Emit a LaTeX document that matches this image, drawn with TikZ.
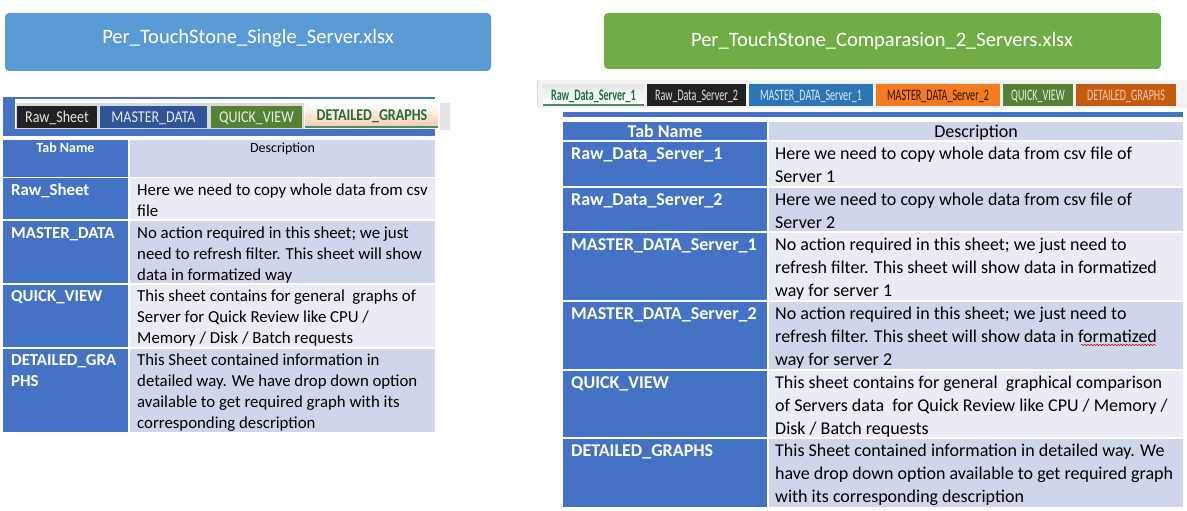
\documentclass[tikz,border=0pt]{standalone}
\usepackage{fontspec}
\setmainfont{Carlito}
\usepackage{graphicx}
\usetikzlibrary{decorations.pathmorphing}
\definecolor{hdrblue}{HTML}{5B9BD5}
\definecolor{hdrgreen}{HTML}{70AD47}
\definecolor{colblue}{HTML}{4472C4}
\definecolor{descdark}{HTML}{CFD5EA}
\definecolor{desclight}{HTML}{E9EBF5}
\definecolor{tabblack}{HTML}{222222}
\definecolor{tabnavy}{HTML}{2F5597}
\definecolor{tabgreen}{HTML}{548235}
\definecolor{tabsky}{HTML}{2E75B6}
\definecolor{taborange}{HTML}{F47B20}
\definecolor{tabrust}{HTML}{C55A11}
\definecolor{peach}{HTML}{F8CBAD}
\definecolor{activegreen}{HTML}{1F6F3A}
\definecolor{stripgray}{HTML}{F2F2F2}
\definecolor{framegray}{HTML}{D9D9D9}
\begin{document}
\begin{tikzpicture}[x=1pt,y=-1pt,
  title/.style={anchor=base, inner sep=0pt, text=white, font=\fontsize{20.5}{24}\selectfont},
  ltxt/.style={anchor=base west, inner sep=0pt, align=left, font=\fontsize{16.8}{21}\selectfont},
  lname/.style={ltxt, text=white, font=\fontsize{16.8}{21}\selectfont\bfseries},
  lhead/.style={anchor=base, inner sep=0pt, font=\fontsize{14}{16}\selectfont},
  rtxt/.style={anchor=base west, inner sep=0pt, align=left, font=\fontsize{18}{23}\selectfont},
  rname/.style={rtxt, text=white, font=\fontsize{18}{23}\selectfont\bfseries},
  rhead/.style={anchor=base, inner sep=0pt, font=\fontsize{18}{20}\selectfont},
  ltab/.style={anchor=base, inner sep=0pt, font=\fontsize{16.5}{18}\selectfont},
  rtab/.style={anchor=base, inner sep=0pt, font=\fontsize{16}{18}\selectfont},
]
\useasboundingbox (0,0) rectangle (1187,511);
\fill[white] (0,0) rectangle (1187,511);

% ---------- title boxes ----------
\fill[hdrblue, rounded corners=4pt] (5,13) rectangle (491,71);
\node[title] (t1) at (248,44) {Per\_TouchStone\_Single\_Server.xlsx};
\fill[hdrgreen, rounded corners=4pt] (604,13) rectangle (1161,69);
\node[title] (t2) at (882,47) {Per\_TouchStone\_Comparasion\_2\_Servers.xlsx};

% ---------- left tab strip ----------
\fill[colblue] (3,97.5) rectangle (435,99);
\fill[colblue] (3,97.5) rectangle (15,136);
\fill[colblue] (3,129) rectangle (435,136);
\fill[white] (15,99) rectangle (435,129);
\fill[framegray] (16,103) rectangle (304,129);
\fill[tabblack] (17,106) rectangle (97,128);
\node[ltab, text=gray!20] (lt1) at (57,122) {\scalebox{0.85}[1]{Raw\_Sheet}};
\fill[tabnavy] (100,106) rectangle (207,128);
\node[ltab, text=white!88!tabnavy] (lt2) at (153.5,122) {\scalebox{0.85}[1]{MASTER\_DATA}};
\fill[tabgreen] (211,106) rectangle (302,128);
\node[ltab, text=white!88!tabgreen] (lt3) at (256.5,122) {\scalebox{0.85}[1]{QUICK\_VIEW}};
\shade[top color=white, bottom color=peach] (305,104) rectangle (438,127);
\fill[activegreen!80] (305,126) rectangle (438,127.5);
\node[ltab, text=activegreen, font=\fontsize{16.5}{18}\selectfont\bfseries] (lt4) at (372,121) {\scalebox{0.85}[1]{DETAILED\_GRAPHS}};
\fill[framegray!70] (440,103) rectangle (450,130);

% ---------- left table ----------
\fill[colblue] (3,140) rectangle (128,177);
\fill[descdark] (130,140) rectangle (435,177);
\node[lhead, text=white, font=\fontsize{14}{16}\selectfont\bfseries] (lh1) at (65.5,152) {Tab Name};
\node[lhead, text=black] (lh2) at (282.5,152) {Description};

\fill[colblue] (3,178) rectangle (128,219);
\fill[desclight] (130,178) rectangle (435,219);
\fill[colblue] (3,221) rectangle (128,283);
\fill[descdark] (130,221) rectangle (435,283);
\fill[colblue] (3,285) rectangle (128,347);
\fill[desclight] (130,285) rectangle (435,347);
\fill[colblue] (3,349) rectangle (128,432);
\fill[descdark] (130,349) rectangle (435,432);

% multi-line nodes: y = baseline of last line
\node[lname] (ln1) at (11,195) {Raw\_Sheet};
\node[ltxt] (ld1) at (137,216) {Here we need to copy whole data from csv\\file};
\node[lname] (ln2) at (11,238) {MASTER\_DATA};
\node[ltxt] (ld2) at (137,280) {No action required in this sheet; we just\\need to refresh filter. This sheet will show\\data in formatized way};
\node[lname] (ln3) at (11,301) {QUICK\_VIEW};
\node[ltxt] (ld3) at (137,343) {This sheet contains for general~ graphs of\\Server for Quick Review like CPU /\\Memory / Disk / Batch requests};
\node[lname] (ln4) at (11,386) {DETAILED\_GRA\\PHS};
\node[ltxt] (ld4) at (137,428) {This Sheet contained information in\\detailed way. We have drop down option\\available to get required graph with its\\corresponding description};

% ---------- right tab strip ----------
\fill[stripgray] (537,80) rectangle (1187,108);
\draw[framegray, line width=0.8pt] (537.5,82) -- (537.5,106);
\shade[top color=framegray!60, bottom color=white] (543,85) rectangle (644,106);
\fill[activegreen!80] (543,104) rectangle (644,106);
\node[rtab, text=activegreen, font=\fontsize{16}{18}\selectfont\bfseries] (rt1) at (593.5,100) {\scalebox{0.63}[1]{Raw\_Data\_Server\_1}};
\fill[tabblack] (647,84) rectangle (746,106);
\node[rtab, text=gray!20] (rt2) at (696.5,100) {\scalebox{0.63}[1]{Raw\_Data\_Server\_2}};
\fill[tabsky] (749,84) rectangle (873,106);
\node[rtab, text=white!85!tabsky] (rt3) at (811,100) {\scalebox{0.63}[1]{MASTER\_DATA\_Server\_1}};
\fill[taborange] (876,84) rectangle (1000,106);
\node[rtab, text=black!85!taborange] (rt4) at (938,100) {\scalebox{0.63}[1]{MASTER\_DATA\_Server\_2}};
\fill[tabgreen] (1003,84) rectangle (1073,106);
\node[rtab, text=white!88!tabgreen] (rt5) at (1038,100) {\scalebox{0.63}[1]{QUICK\_VIEW}};
\fill[tabrust] (1076,84) rectangle (1176,106);
\node[rtab, text=peach] (rt6) at (1126,100) {\scalebox{0.63}[1]{DETAILED\_GRAPHS}};

\fill[colblue] (563,112) rectangle (1183,117);

% ---------- right table ----------
\fill[colblue] (563,122) rectangle (767,140);
\fill[descdark] (769,122) rectangle (1183,140);
\node[rhead, text=white, font=\fontsize{18}{20}\selectfont\bfseries] (rh1) at (665,137) {Tab Name};
\node[rhead, text=black] (rh2) at (976,137) {Description};

\fill[colblue] (563,142) rectangle (767,186);
\fill[desclight] (769,142) rectangle (1183,186);
\fill[colblue] (563,188) rectangle (767,231);
\fill[descdark] (769,188) rectangle (1183,231);
\fill[colblue] (563,233) rectangle (767,300);
\fill[desclight] (769,233) rectangle (1183,300);
\fill[colblue] (563,302) rectangle (767,369);
\fill[descdark] (769,302) rectangle (1183,369);
\fill[colblue] (563,371) rectangle (767,437);
\fill[desclight] (769,371) rectangle (1183,437);
\fill[colblue] (563,439) rectangle (767,507);
\fill[descdark] (769,439) rectangle (1183,507);

\node[rname] (rn1) at (571,159) {Raw\_Data\_Server\_1};
\node[rtxt] (rd1) at (775,182) {Here we need to copy whole data from csv file of\\Server 1};
\node[rname] (rn2) at (571,205) {Raw\_Data\_Server\_2};
\node[rtxt] (rd2) at (775,228) {Here we need to copy whole data from csv file of\\Server 2};
\node[rname] (rn3) at (571,250) {MASTER\_DATA\_Server\_1};
\node[rtxt] (rd3) at (775,296) {No action required in this sheet; we just need to\\refresh filter. This sheet will show data in formatized\\way for server 1};
\node[rname] (rn4) at (571,319) {MASTER\_DATA\_Server\_2};
\node[rtxt] (rd4) at (775,365) {No action required in this sheet; we just need to\\refresh filter. This sheet will show data in formatized\\way for server 2};
\node[rname] (rn5) at (571,388) {QUICK\_VIEW};
\node[rtxt] (rd5) at (775,434) {This sheet contains for general~ graphical comparison\\of Servers data~ for Quick Review like CPU / Memory /\\Disk / Batch requests};
\node[rname] (rn6) at (571,456) {DETAILED\_GRAPHS};
\node[rtxt] (rd6) at (775,502) {This Sheet contained information in detailed way. We\\have drop down option available to get required graph\\with its corresponding description};

% spell-check squiggle under "formatized" (row 4)
\draw[red!85!black, line width=0.5pt, decorate, decoration={snake, amplitude=0.7pt, segment length=3pt}] (1081,345) -- (1156,345);
\end{tikzpicture}
\end{document}
